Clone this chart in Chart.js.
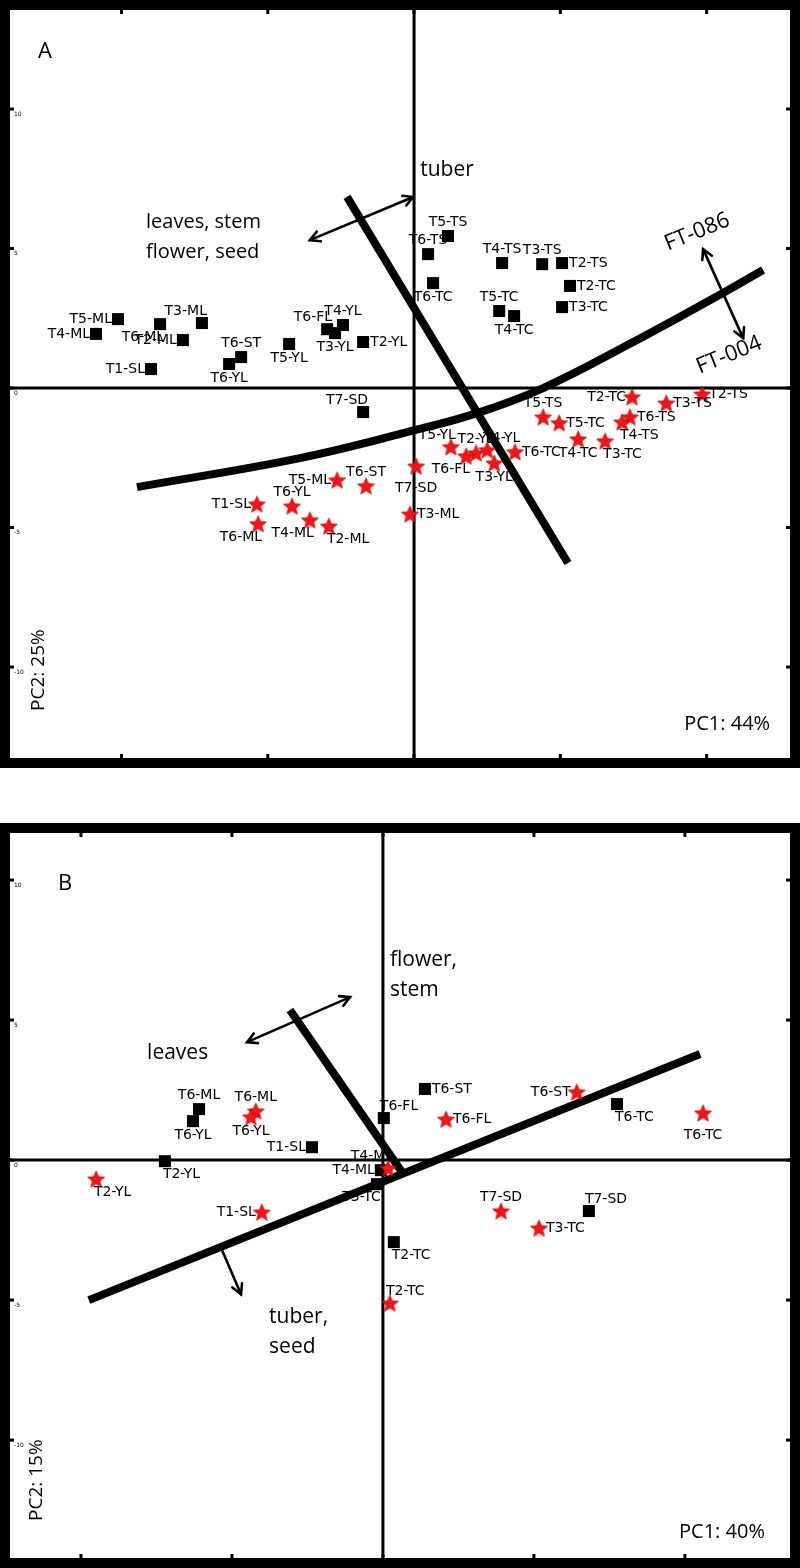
<!DOCTYPE html>
<html><head><meta charset="utf-8">
<script src="https://cdn.jsdelivr.net/npm/chart.js@4.4.0/dist/chart.umd.min.js"></script>
<style>
html,body{margin:0;padding:0;background:#fff;}
#wrap{position:relative;width:800px;height:1568px;overflow:hidden;}
#cA{position:absolute;left:0;top:0;}
#cB{position:absolute;left:0;top:823px;}
</style></head><body>
<div id="wrap">
<canvas id="cA" width="800" height="768"></canvas>
<canvas id="cB" width="800" height="745"></canvas>
</div>
<script>
// ---------- DATA ----------
const tickValues = [-10, -5, 0, 5, 10];

// Panel A (PC1 44%, PC2 25%)
const aSquareLabels = ['T5-ML','T4-ML','T6-ML','T3-ML','T2-ML','T1-SL','T6-ST','T6-YL','T5-YL','T6-FL','T3-YL','T4-YL','T2-YL','T7-SD','T5-TS','T6-TS','T4-TS','T3-TS','T2-TS','T2-TC','T6-TC','T5-TC','T4-TC','T3-TC'];
const aSquareX = [-10.12,-10.87,-8.68,-7.25,-7.90,-8.99,-5.91,-6.32,-4.27,-2.97,-2.70,-2.43,-1.74,-1.74,1.16,0.48,3.01,4.38,5.06,5.33,0.65,2.91,3.42,5.06];
const aSquareY = [2.47,1.94,2.29,2.33,1.72,0.68,1.11,0.86,1.58,2.11,1.97,2.26,1.65,-0.86,5.45,4.80,4.48,4.44,4.48,3.66,3.76,2.76,2.58,2.90];

const aStarLabels = ['T2-TS','T3-TS','T2-TC','T6-TS','T4-TS','T5-TS','T5-TC','T4-TC','T3-TC','T6-TC','T5-YL','T2-YL','T4-YL','T6-FL','T3-YL','T7-SD','T5-ML','T6-ST','T1-SL','T6-YL','T6-ML','T4-ML','T2-ML','T3-ML'];
const aStarX = [9.85,8.62,7.45,7.38,7.11,4.41,4.96,5.61,6.53,3.45,1.26,2.12,2.50,1.78,2.74,0.07,-2.63,-1.64,-5.37,-4.17,-5.33,-3.56,-2.91,-0.14];
const aStarY = [-0.22,-0.54,-0.32,-1.04,-1.22,-1.04,-1.25,-1.83,-1.90,-2.29,-2.11,-2.33,-2.22,-2.44,-2.69,-2.80,-3.30,-3.51,-4.16,-4.23,-4.87,-4.73,-4.95,-4.52];

// Panel B (PC1 40%, PC2 15%)
const bSquareLabels = ['T6-ML','T6-YL','T1-SL','T2-YL','T6-FL','T4-ML','T3-TC','T6-ST','T6-TC','T7-SD','T2-TC'];
const bSquareX = [-6.09,-6.29,-2.35,-7.22,0.03,-0.07,-0.20,1.39,7.75,6.82,0.36];
const bSquareY = [1.82,1.39,0.46,-0.04,1.50,-0.36,-0.86,2.54,2.00,-1.82,-2.93];

const bStarLabels = ['T6-ML','T6-YL','T2-YL','T1-SL','T4-ML','T6-FL','T6-ST','T6-TC','T7-SD','T3-TC','T2-TC'];
const bStarX = [-4.21,-4.37,-9.50,-4.01,0.17,2.09,6.42,10.60,3.91,5.17,0.23];
const bStarY = [1.75,1.54,-0.68,-1.86,-0.29,1.46,2.43,1.68,-1.82,-2.43,-5.11];

// separator lines / arrows (data units)
const aTuberLine = [{x:-2.29,y:6.85},{x:5.26,y:-6.27}];
const aFTCurve = [{x:-9.47,y:-3.55},{x:-3.90,y:-2.51},{x:0.03,y:-1.51},{x:2.15,y:-0.90},{x:4.41,y:0},{x:7.49,y:1.65},{x:10.56,y:3.41},{x:11.93,y:4.23}];
const bLine1 = [{x:-3.08,y:5.36},{x:0.63,y:-0.43}];
const bLine2 = [{x:-9.74,y:-5.0},{x:10.50,y:3.79}];

// ---------- STYLE (label placement) ----------
const aSquarePlace = ['L','L','BL','TL','L','L','T','B','B','TL','B','T','R','TL','T','T','T','T','R','R','B','T','B','R'];
const aStarPlace = ['R','R','L','R','BR','T','R','B','BR','R','TL','T','TR','BL','B','B2','L','T','L','T','BL','BL','BR','R'];
const bSquarePlace = ['T','B','L','BR','TR','L','BL','R','BR','TR','BR'];
const bStarPlace = ['T','B','BR','L','TL','R','L','B2','T','R','TR'];

function makeStar(d){
  const c=document.createElement('canvas'); c.width=d; c.height=d;
  const g=c.getContext('2d'); const R=d/2-0.5, r=R*0.45, cx=d/2, cy=d/2+0.8;
  g.beginPath();
  for(let i=0;i<10;i++){const a=-Math.PI/2+i*Math.PI/5; const rr=i%2?r:R; g.lineTo(cx+rr*Math.cos(a), cy+rr*Math.sin(a));}
  g.closePath(); g.fillStyle='#f21515'; g.fill(); g.strokeStyle='#b80000'; g.lineWidth=0.7; g.stroke();
  return c;
}
const starImg = makeStar(19);

function pts(xs, ys){ return xs.map((x,i)=>({x:x, y:ys[i]})); }

const OFF = {
  L:['right',-6,0], R:['left',7,0], T:['center',0,-14], B:['center',0,14], B2:['center',0,22],
  TL:['right',5,-12], TR:['left',-4,-12], BL:['right',4,13], BR:['left',-2,13]
};

function drawArrowHead(ctx, x1,y1,x2,y2, size){
  const a=Math.atan2(y2-y1,x2-x1);
  ctx.beginPath();
  ctx.moveTo(x2-size*Math.cos(a-0.5), y2-size*Math.sin(a-0.5));
  ctx.lineTo(x2,y2);
  ctx.lineTo(x2-size*Math.cos(a+0.5), y2-size*Math.sin(a+0.5));
  ctx.stroke();
}

const decor = {
  id:'decor',
  beforeDatasetsDraw(chart, args, o){
    const ctx=chart.ctx, xs=chart.scales.x, ys=chart.scales.y, ca=chart.chartArea;
    ctx.save();
    ctx.strokeStyle='#000'; ctx.lineWidth=3;
    const x0=xs.getPixelForValue(0), y0=ys.getPixelForValue(0);
    ctx.beginPath(); ctx.moveTo(x0,ca.top); ctx.lineTo(x0,ca.bottom); ctx.stroke();
    ctx.beginPath(); ctx.moveTo(ca.left,y0); ctx.lineTo(ca.right,y0); ctx.stroke();
    ctx.fillStyle='#000';
    tickValues.forEach(v=>{
      const px=xs.getPixelForValue(v), py=ys.getPixelForValue(v);
      ctx.fillRect(px-1.5, ca.bottom-4, 3, 4);
      ctx.fillRect(px-1.5, ca.top, 3, 4);
      ctx.fillRect(ca.left, py-1.5, 4, 3);
      ctx.fillRect(ca.right-4, py-1.5, 4, 3);
    });
    ctx.font='6px "DejaVu Sans"'; ctx.textAlign='left'; ctx.textBaseline='middle';
    tickValues.forEach(v=>{
      const py=ys.getPixelForValue(v);
      ctx.fillText(String(v), ca.left+4, py+5);
    });
    ctx.restore();
  },
  afterDatasetsDraw(chart, args, o){
    const ctx=chart.ctx, xs=chart.scales.x, ys=chart.scales.y, ca=chart.chartArea;
    ctx.save();
    // point labels
    ctx.fillStyle='#000'; ctx.textBaseline='middle';
    ctx.font='14px "DejaVu Sans"';
    chart.data.datasets.forEach((ds,i)=>{
      if(!ds.ptLabels) return;
      const meta=chart.getDatasetMeta(i);
      meta.data.forEach((el,j)=>{
        const p=OFF[ds.ptPlace[j]];
        ctx.textAlign=p[0];
        ctx.fillText(ds.ptLabels[j], el.x+p[1], el.y+p[2]);
      });
    });
    // arrows
    ctx.strokeStyle='#000'; ctx.lineWidth=2.6; ctx.lineCap='round';
    (o.arrows||[]).forEach(a=>{
      const x1=xs.getPixelForValue(a.p[0].x), y1=ys.getPixelForValue(a.p[0].y);
      const x2=xs.getPixelForValue(a.p[1].x), y2=ys.getPixelForValue(a.p[1].y);
      ctx.beginPath(); ctx.moveTo(x1,y1); ctx.lineTo(x2,y2); ctx.stroke();
      drawArrowHead(ctx,x1,y1,x2,y2,11);
      if(a.both) drawArrowHead(ctx,x2,y2,x1,y1,11);
    });
    // texts
    (o.texts||[]).forEach(t=>{
      ctx.save();
      ctx.font=(t.size||20)+'px "Open Sans"';
      ctx.textAlign=t.align||'left'; ctx.textBaseline='middle';
      ctx.translate(xs.getPixelForValue(t.x), ys.getPixelForValue(t.y));
      if(t.rot) ctx.rotate(t.rot*Math.PI/180);
      ctx.fillText(t.t,0,0);
      ctx.restore();
    });
    // frame
    ctx.lineWidth=10; ctx.strokeStyle='#000'; ctx.lineCap='butt';
    ctx.strokeRect(ca.left-5, ca.top-5, ca.right-ca.left+10, ca.bottom-ca.top+10);
    ctx.restore();
  }
};

function sepDS(data, tension){
  return {data:data, showLine:true, borderColor:'#000', borderWidth:8, pointRadius:0, tension:tension||0, order:5, borderCapStyle:'butt'};
}
function sqDS(labels,xs,ys,place){
  return {data:pts(xs,ys), pointStyle:'rect', pointRadius:8.5, backgroundColor:'#000', borderWidth:0, order:2, ptLabels:labels, ptPlace:place};
}
function starDS(labels,xs,ys,place){
  return {data:pts(xs,ys), pointStyle:starImg, pointRadius:9, order:1, ptLabels:labels, ptPlace:place};
}

function makeChart(id, datasets, xr, yr, deco){
  return new Chart(document.getElementById(id), {
    type:'scatter',
    data:{datasets:datasets},
    options:{
      responsive:false, animation:false, devicePixelRatio:1, events:[],
      layout:{padding:{left:10,right:10,top:10,bottom:10}},
      plugins:{legend:{display:false}, tooltip:{enabled:false}, decor:deco},
      scales:{
        x:{type:'linear', min:xr[0], max:xr[1], display:false},
        y:{type:'linear', min:yr[0], max:yr[1], display:false}
      }
    },
    plugins:[decor]
  });
}

makeChart('cA', [
  sepDS(aTuberLine), sepDS(aFTCurve, 0.4),
  sqDS(aSquareLabels,aSquareX,aSquareY,aSquarePlace),
  starDS(aStarLabels,aStarX,aStarY,aStarPlace)
], [-13.81, 12.85], [-13.26, 13.55], {
  arrows:[
    {p:[{x:-3.56,y:5.30},{x:-0.03,y:6.85}], both:true},
    {p:[{x:9.88,y:4.98},{x:11.25,y:1.79}], both:true}
  ],
  texts:[
    {t:'A', x:-12.85, y:12.04, size:22},
    {t:'leaves, stem', x:-9.16, y:5.95, size:20},
    {t:'flower, seed', x:-9.16, y:4.87, size:20},
    {t:'tuber', x:0.21, y:7.81, size:21},
    {t:'FT-086', x:9.68, y:5.59, size:22, align:'center', rot:-22},
    {t:'FT-004', x:10.77, y:1.18, size:22, align:'center', rot:-22},
    {t:'PC2: 25%', x:-12.82, y:-10.11, size:19, align:'center', rot:-90},
    {t:'PC1: 44%', x:12.17, y:-12.04, size:20, align:'right'}
  ]
});

makeChart('cB', [
  sepDS(bLine1), sepDS(bLine2),
  sqDS(bSquareLabels,bSquareX,bSquareY,bSquarePlace),
  starDS(bStarLabels,bStarX,bStarY,bStarPlace)
], [-12.35, 13.48], [-14.21, 11.68], {
  arrows:[
    {p:[{x:-4.50,y:4.21},{x:-1.09,y:5.82}], both:true},
    {p:[{x:-5.33,y:-3.21},{x:-4.70,y:-4.79}], both:false}
  ],
  texts:[
    {t:'B', x:-10.76, y:9.86, size:22},
    {t:'flower,', x:0.23, y:7.14, size:21},
    {t:'stem', x:0.23, y:6.07, size:21},
    {t:'leaves', x:-7.81, y:3.82, size:21},
    {t:'tuber,', x:-3.77, y:-5.61, size:21},
    {t:'seed', x:-3.77, y:-6.68, size:21},
    {t:'PC2: 15%', x:-11.46, y:-11.43, size:19, align:'center', rot:-90},
    {t:'PC1: 40%', x:12.65, y:-13.29, size:20, align:'right'}
  ]
});
</script>
</body></html>
